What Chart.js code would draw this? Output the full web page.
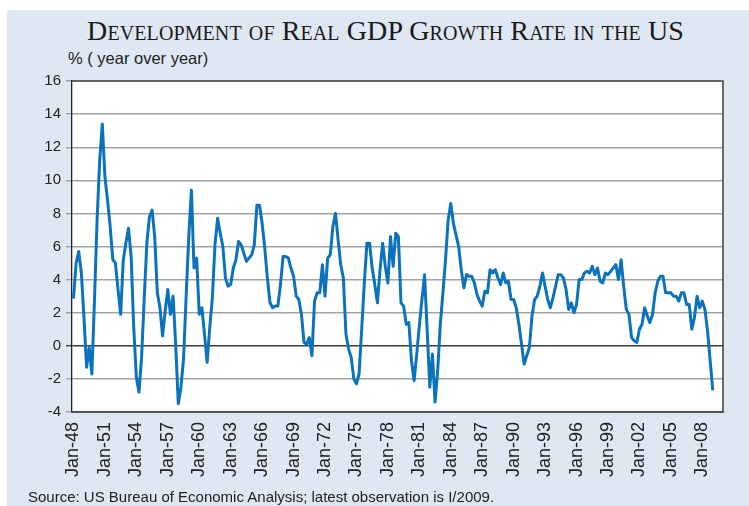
<!DOCTYPE html>
<html>
<head>
<meta charset="utf-8">
<title>Real GDP growth US</title>
<script src="https://cdn.jsdelivr.net/npm/chart.js@4.4.1/dist/chart.umd.min.js"></script>
<style>
  body { margin: 0; background: #fff; }
  #frame { position: relative; width: 749px; height: 506px; overflow: hidden; background: #fff; }
  #panel { position: absolute; left: 7px; top: 10px; right: 0; bottom: 0; background: #dfe7f3; }
  #title {
    position: absolute; left: 0; width: 771px; top: 17px; text-align: center;
    font-family: 'Liberation Serif', 'Times New Roman', serif; font-size: 28px; line-height: 28px;
    letter-spacing: 0.1px; font-variant: small-caps; color: #1a1a1a; white-space: nowrap;
  }
  #unit {
    position: absolute; left: 68px; top: 50px;
    font-family: 'Liberation Sans', Arial, sans-serif; font-size: 16.5px; line-height: 16px; color: #222;
  }
  #source {
    position: absolute; left: 28px; top: 490px;
    font-family: 'Liberation Sans', Arial, sans-serif; font-size: 15px; line-height: 14px; color: #222;
    white-space: nowrap;
  }
  #gdp-chart { position: absolute; left: 0; top: 0; }
</style>
</head>
<body>
<div id="frame">
  <div id="panel"></div>
  <div id="title">Development of Real GDP Growth Rate in the US</div>
  <div id="unit">% ( year over year)</div>
  <canvas id="gdp-chart" width="749" height="506"></canvas>
  <div id="source">Source: US Bureau of Economic Analysis; latest observation is I/2009.</div>
</div>
<script>
/* Real GDP, % change year over year, quarterly from 1948 Q1 to 2009 Q1 */
const growth = [
  2.85, 5.0, 5.7, 4.4,   1.7, -1.3, -0.1, -1.7,   2.7, 7.6, 11.2, 13.4,     // 48-50
  10.2, 8.8, 7.2, 5.2,   5.0, 3.4, 1.9, 5.2,      6.2, 7.1, 5.4, 1.1,       // 51-53
  -1.9, -2.8, -0.7, 2.9, 6.2, 7.8, 8.2, 6.6,      3.2, 2.3, 0.6, 2.1,       // 54-56
  3.4, 1.9, 3.0, 0.1,    -3.5, -2.5, -0.8, 3.0,   6.6, 9.4, 4.7, 5.3,       // 57-59
  1.9, 2.3, 0.7, -1.0,   1.1, 2.9, 6.1, 7.7,      6.8, 6.0, 4.1, 3.6,       // 60-62
  3.7, 4.7, 5.2, 6.3,    6.1, 5.6, 5.1, 5.3,      5.5, 6.1, 8.5, 8.5,       // 63-65
  7.4, 5.9, 4.1, 2.6,    2.3, 2.4, 2.4, 3.7,      5.4, 5.4, 5.3, 4.7,       // 66-68
  4.2, 3.0, 2.8, 1.9,    0.2, 0.1, 0.5, -0.6,     2.7, 3.2, 3.2, 4.9,       // 69-71
  3.0, 5.3, 5.5, 7.2,    8.0, 6.4, 4.9, 4.1,      0.7, -0.2, -0.7, -2.0,    // 72-74
  -2.3, -1.7, 1.0, 3.8,  6.2, 6.2, 4.7, 3.7,      2.6, 4.6, 6.2, 4.8,       // 75-77
  3.8, 6.6, 4.8, 6.8,    6.6, 2.6, 2.4, 1.3,      1.4, -0.9, -2.1, -0.5,    // 78-80
  1.2, 2.8, 4.3, 0.9,    -2.5, -0.5, -3.4, -1.5,  1.3, 3.2, 5.2, 7.6,       // 81-83
  8.6, 7.4, 6.7, 6.0,    4.6, 3.5, 4.3, 4.2,      4.2, 3.8, 3.1, 2.7,       // 84-86
  2.4, 3.3, 3.2, 4.6,    4.4, 4.6, 4.1, 3.7,      4.4, 3.8, 3.9, 2.8,       // 87-89
  2.8, 2.3, 1.3, 0.1,    -1.1, -0.6, -0.1, 1.8,   2.8, 3.0, 3.6, 4.4,       // 90-92
  3.6, 2.8, 2.3, 2.9,    3.6, 4.3, 4.3, 4.1,      3.4, 2.2, 2.6, 2.0,       // 93-95
  2.5, 4.0, 4.0, 4.4,    4.5, 4.4, 4.8, 4.3,      4.7, 3.9, 3.8, 4.4,       // 96-98
  4.3, 4.5, 4.7, 4.9,    4.0, 5.2, 3.6, 2.2,      1.9, 0.5, 0.3, 0.2,       // 99-01
  1.0, 1.3, 2.3, 1.8,    1.4, 1.9, 3.2, 3.9,      4.2, 4.2, 3.2, 3.2,       // 02-04
  3.2, 3.0, 3.0, 2.7,    3.2, 3.2, 2.5, 2.5,      1.0, 1.7, 3.0, 2.3,       // 05-07
  2.7, 2.2, 0.9, -0.9,   -2.7                                              // 08-09
];

const xTickLabels = [
  'Jan-48', 'Jan-51', 'Jan-54', 'Jan-57', 'Jan-60', 'Jan-63', 'Jan-66',
  'Jan-69', 'Jan-72', 'Jan-75', 'Jan-78', 'Jan-81', 'Jan-84', 'Jan-87',
  'Jan-90', 'Jan-93', 'Jan-96', 'Jan-99', 'Jan-02', 'Jan-05', 'Jan-08'
];
const quartersPerLabel = 12;

// white plot area on the blue panel
const plotBackground = {
  id: 'plotBackground',
  beforeDraw(chart) {
    const { ctx, chartArea: a } = chart;
    ctx.save();
    ctx.fillStyle = '#ffffff';
    ctx.fillRect(a.left, a.top, a.width, a.height);
    ctx.restore();
  }
};

// dark frame round the plot
const plotBorder = {
  id: 'plotBorder',
  afterDatasetsDraw(chart) {
    const { ctx, chartArea: a } = chart;
    ctx.save();
    ctx.strokeStyle = '#4a4a4a';
    ctx.lineWidth = 1.6;
    ctx.beginPath();
    ctx.moveTo(a.left, a.top);
    ctx.lineTo(a.right, a.top);
    ctx.lineTo(a.right, a.bottom);
    ctx.lineTo(a.left, a.bottom);
    ctx.stroke();
    ctx.restore();
  }
};

const canvas = document.getElementById('gdp-chart');
new Chart(canvas.getContext('2d'), {
  type: 'line',
  data: {
    datasets: [{
      label: 'Real GDP growth (yoy)',
      data: growth.map((v, i) => ({ x: i, y: v })),
      borderColor: '#0b72bd',
      borderWidth: 3,
      borderJoinStyle: 'round',
      pointRadius: 0,
      tension: 0,
      fill: false
    }]
  },
  options: {
    responsive: false,
    animation: false,
    devicePixelRatio: 1,
    layout: { padding: { top: 81, right: 26, left: 0, bottom: 0 } },
    plugins: { legend: { display: false }, tooltip: { enabled: false } },
    scales: {
      x: {
        type: 'linear',
        min: -0.57,
        max: 247.9,
        grid: { display: false, drawTicks: false },
        border: { display: true, color: '#4a4a4a', width: 1.6 },
        afterBuildTicks: (s) => {
          s.ticks = xTickLabels.map((_, i) => ({ value: i * quartersPerLabel }));
        },
        afterFit: (s) => { s.height = 94; },
        ticks: {
          autoSkip: false,
          minRotation: 90,
          maxRotation: 90,
          padding: 10,
          color: '#222',
          font: { family: 'Liberation Sans', size: 18 },
          callback: (v, i) => xTickLabels[i]
        }
      },
      y: {
        min: -4,
        max: 16,
        afterFit: (s) => { s.width = 72; },
        grid: {
          color: (c) => (c.tick && c.tick.value === 0 ? '#3a3a3a' : '#a3a3a3'),
          lineWidth: 1.4,
          tickLength: 6
        },
        border: { display: true, color: '#222', width: 1.3 },
        ticks: {
          stepSize: 2,
          padding: 5,
          color: '#222',
          font: { family: 'Liberation Sans', size: 15 }
        }
      }
    }
  },
  plugins: [plotBackground, plotBorder]
});
</script>
</body>
</html>
